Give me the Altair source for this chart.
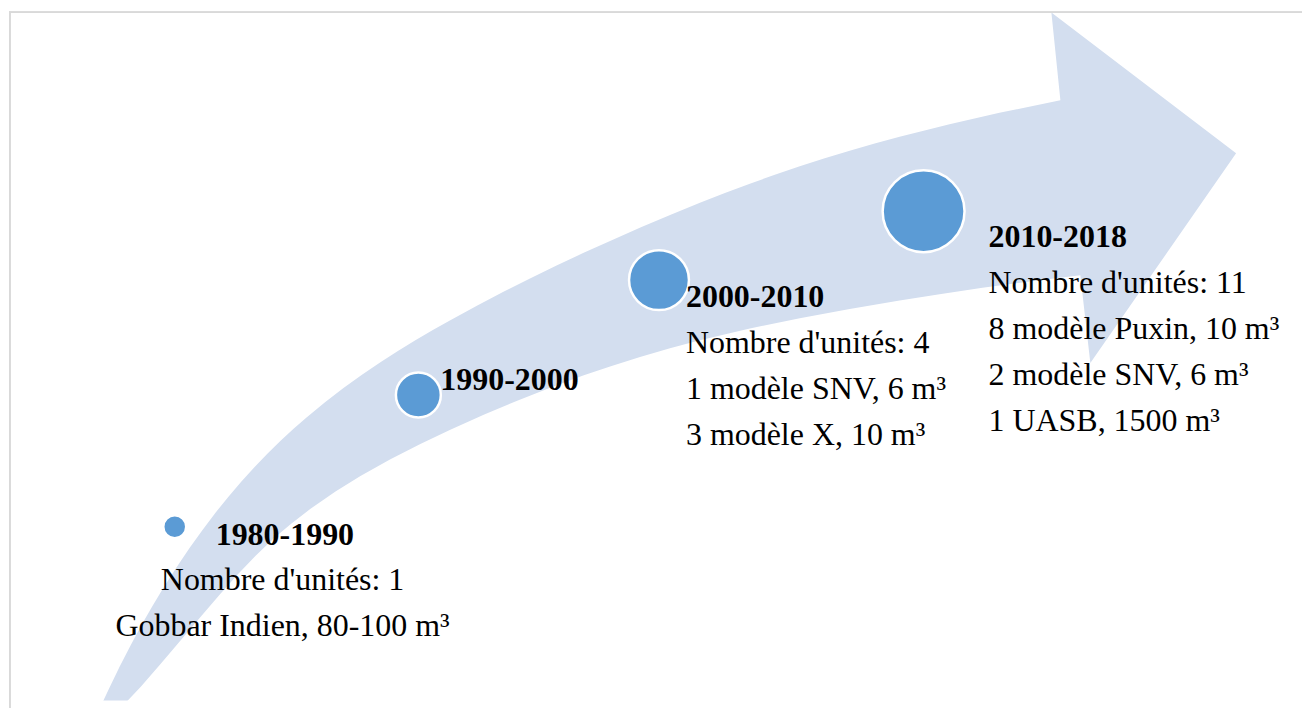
import altair as alt
import pandas as pd

# ---- diagram data (coordinates in the picture's own pixel frame) ----
periods = ["1980-1990", "1990-2000", "2000-2010", "2010-2018"]
dot_x = [174, 418, 659, 924]
dot_y = [526, 394, 279, 210]
dot_r = [11.5, 22.5, 30, 41]

title_x = [215, 440, 686, 989]
title_y = [544, 389, 306, 246]

details_1980 = ["Nombre d'unités: 1", "Gobbar Indien, 80-100 m\u00b3"]
details_2000 = ["Nombre d'unités: 4", "1 modèle SNV, 6 m\u00b3", "3 modèle X, 10 m\u00b3"]
details_2010 = ["Nombre d'unités: 11", "8 modèle Puxin, 10 m\u00b3",
                "2 modèle SNV, 6 m\u00b3", "1 UASB, 1500 m\u00b3"]
detail_anchor_x = [282, 686, 989]
detail_anchor_y = [589, 352, 292]

# curved arrow outline: upper edge (tail -> notch), head, lower edge (notch -> tail)
upper_x = [94, 97, 108, 119, 130, 141, 152, 163, 176, 189, 202, 215, 228, 241,
           254, 267, 280, 293, 306, 324.5, 343, 361.5, 380, 397.5, 415, 432.5,
           450, 476.6, 503.2, 529.8, 556.4, 583, 612.25, 641.5, 670.75, 700, 725,
           750, 775, 800, 825, 850, 875, 900, 950, 1000, 1061]
upper_y = [720, 712, 688.4, 665.8, 644.4, 624.0, 604.8, 586.6, 566.3, 547.1,
           528.9, 511.7, 495.6, 480.5, 466.2, 452.7, 439.9, 427.9, 416.6, 401.4,
           387.1, 373.7, 361.2, 350.0, 339.3, 329.0, 319.1, 304.7, 290.7, 277.3,
           264.4, 251.9, 238.7, 225.9, 213.5, 201.5, 191.8, 182.4, 173.5, 165.0,
           156.9, 149.4, 142.2, 135.5, 122.9, 111.4, 98.9]
head_x = [1052, 1237, 1091, 1081]
head_y = [11, 152, 362, 274]
lower_x = [1030, 983, 940, 900, 850, 800, 750, 700, 670, 640, 610, 583, 550,
           517, 484, 450, 420, 390, 360, 335, 310, 290, 273, 255, 237, 220, 200,
           180, 160, 140, 125, 112, 102]
lower_y = [280.4, 286.7, 293.1, 299.4, 307.9, 317.2, 327.4, 339.2, 347.2, 355.9,
           365.4, 374.6, 386.8, 399.8, 413.7, 428.8, 443.1, 458.4, 475.2, 490.7,
           508.0, 523.4, 537.9, 555.0, 573.9, 592.9, 616.1, 639.7, 663.3, 686.3,
           702.1, 713.8, 719.8]

# ---- build tables ----
ring = [[x, y] for x, y in zip(upper_x + head_x + lower_x, upper_y + head_y + lower_y)]
ring.append(ring[0])
arrow_feature = {"type": "Feature", "properties": {},
                 "geometry": {"type": "Polygon", "coordinates": [ring]}}

# Vega symbol size is the area of the symbol's bounding square
dots = pd.DataFrame({"period": periods, "x": dot_x, "y": dot_y,
                     "area": [(2 * r) ** 2 for r in dot_r]})
titles = pd.DataFrame({"period": periods, "x": title_x, "y": title_y})
det_center = pd.DataFrame({"x": [detail_anchor_x[0]], "y": [detail_anchor_y[0]],
                           "txt": ["\n".join(details_1980)]})
det_left = pd.DataFrame({"x": detail_anchor_x[1:], "y": detail_anchor_y[1:],
                         "txt": ["\n".join(details_2000), "\n".join(details_2010)]})

BAND = "#D3DEEF"
DOT = "#5B9BD5"
FONT = "Liberation Serif"

arrow = alt.Chart(alt.Data(values=[arrow_feature])).mark_geoshape(
    fill=BAND, strokeWidth=0
)

circles = alt.Chart(dots).mark_circle(
    color=DOT, opacity=1, stroke="white", strokeWidth=2.5
).encode(
    longitude=alt.Longitude("x:Q"),
    latitude=alt.Latitude("y:Q"),
    size=alt.Size("area:Q", scale=None),
)

title_text = alt.Chart(titles).mark_text(
    font=FONT, fontSize=32, fontWeight="bold", align="left",
    baseline="alphabetic", color="black"
).encode(longitude="x:Q", latitude="y:Q", text="period:N")

detail_c = alt.Chart(det_center).mark_text(
    font=FONT, fontSize=32, align="center", baseline="alphabetic",
    lineBreak="\n", lineHeight=46, color="black"
).encode(longitude="x:Q", latitude="y:Q", text="txt:N")

detail_l = alt.Chart(det_left).mark_text(
    font=FONT, fontSize=32, align="left", baseline="alphabetic",
    lineBreak="\n", lineHeight=46, color="black"
).encode(longitude="x:Q", latitude="y:Q", text="txt:N")

frame_top = alt.Chart(titles).mark_rule(color="#D9D9D9", strokeWidth=1.5).encode(
    x=alt.value(0), x2=alt.value(1295), y=alt.value(0.75)
)
frame_left = alt.Chart(titles).mark_rule(color="#D9D9D9", strokeWidth=1.5).encode(
    x=alt.value(0.75), y=alt.value(0), y2=alt.value(700)
)

chart = alt.layer(
    arrow, circles, title_text, detail_c, detail_l, frame_top, frame_left
).project(
    type="identity", scale=1, translate=[-8, -10]
).properties(
    width=1295, height=690,
    padding={"left": 0, "top": 2, "right": 0, "bottom": 0},
    background="white",
).configure_view(stroke=None)

chart.save("out.html", embed_options={"renderer": "svg", "actions": False})
